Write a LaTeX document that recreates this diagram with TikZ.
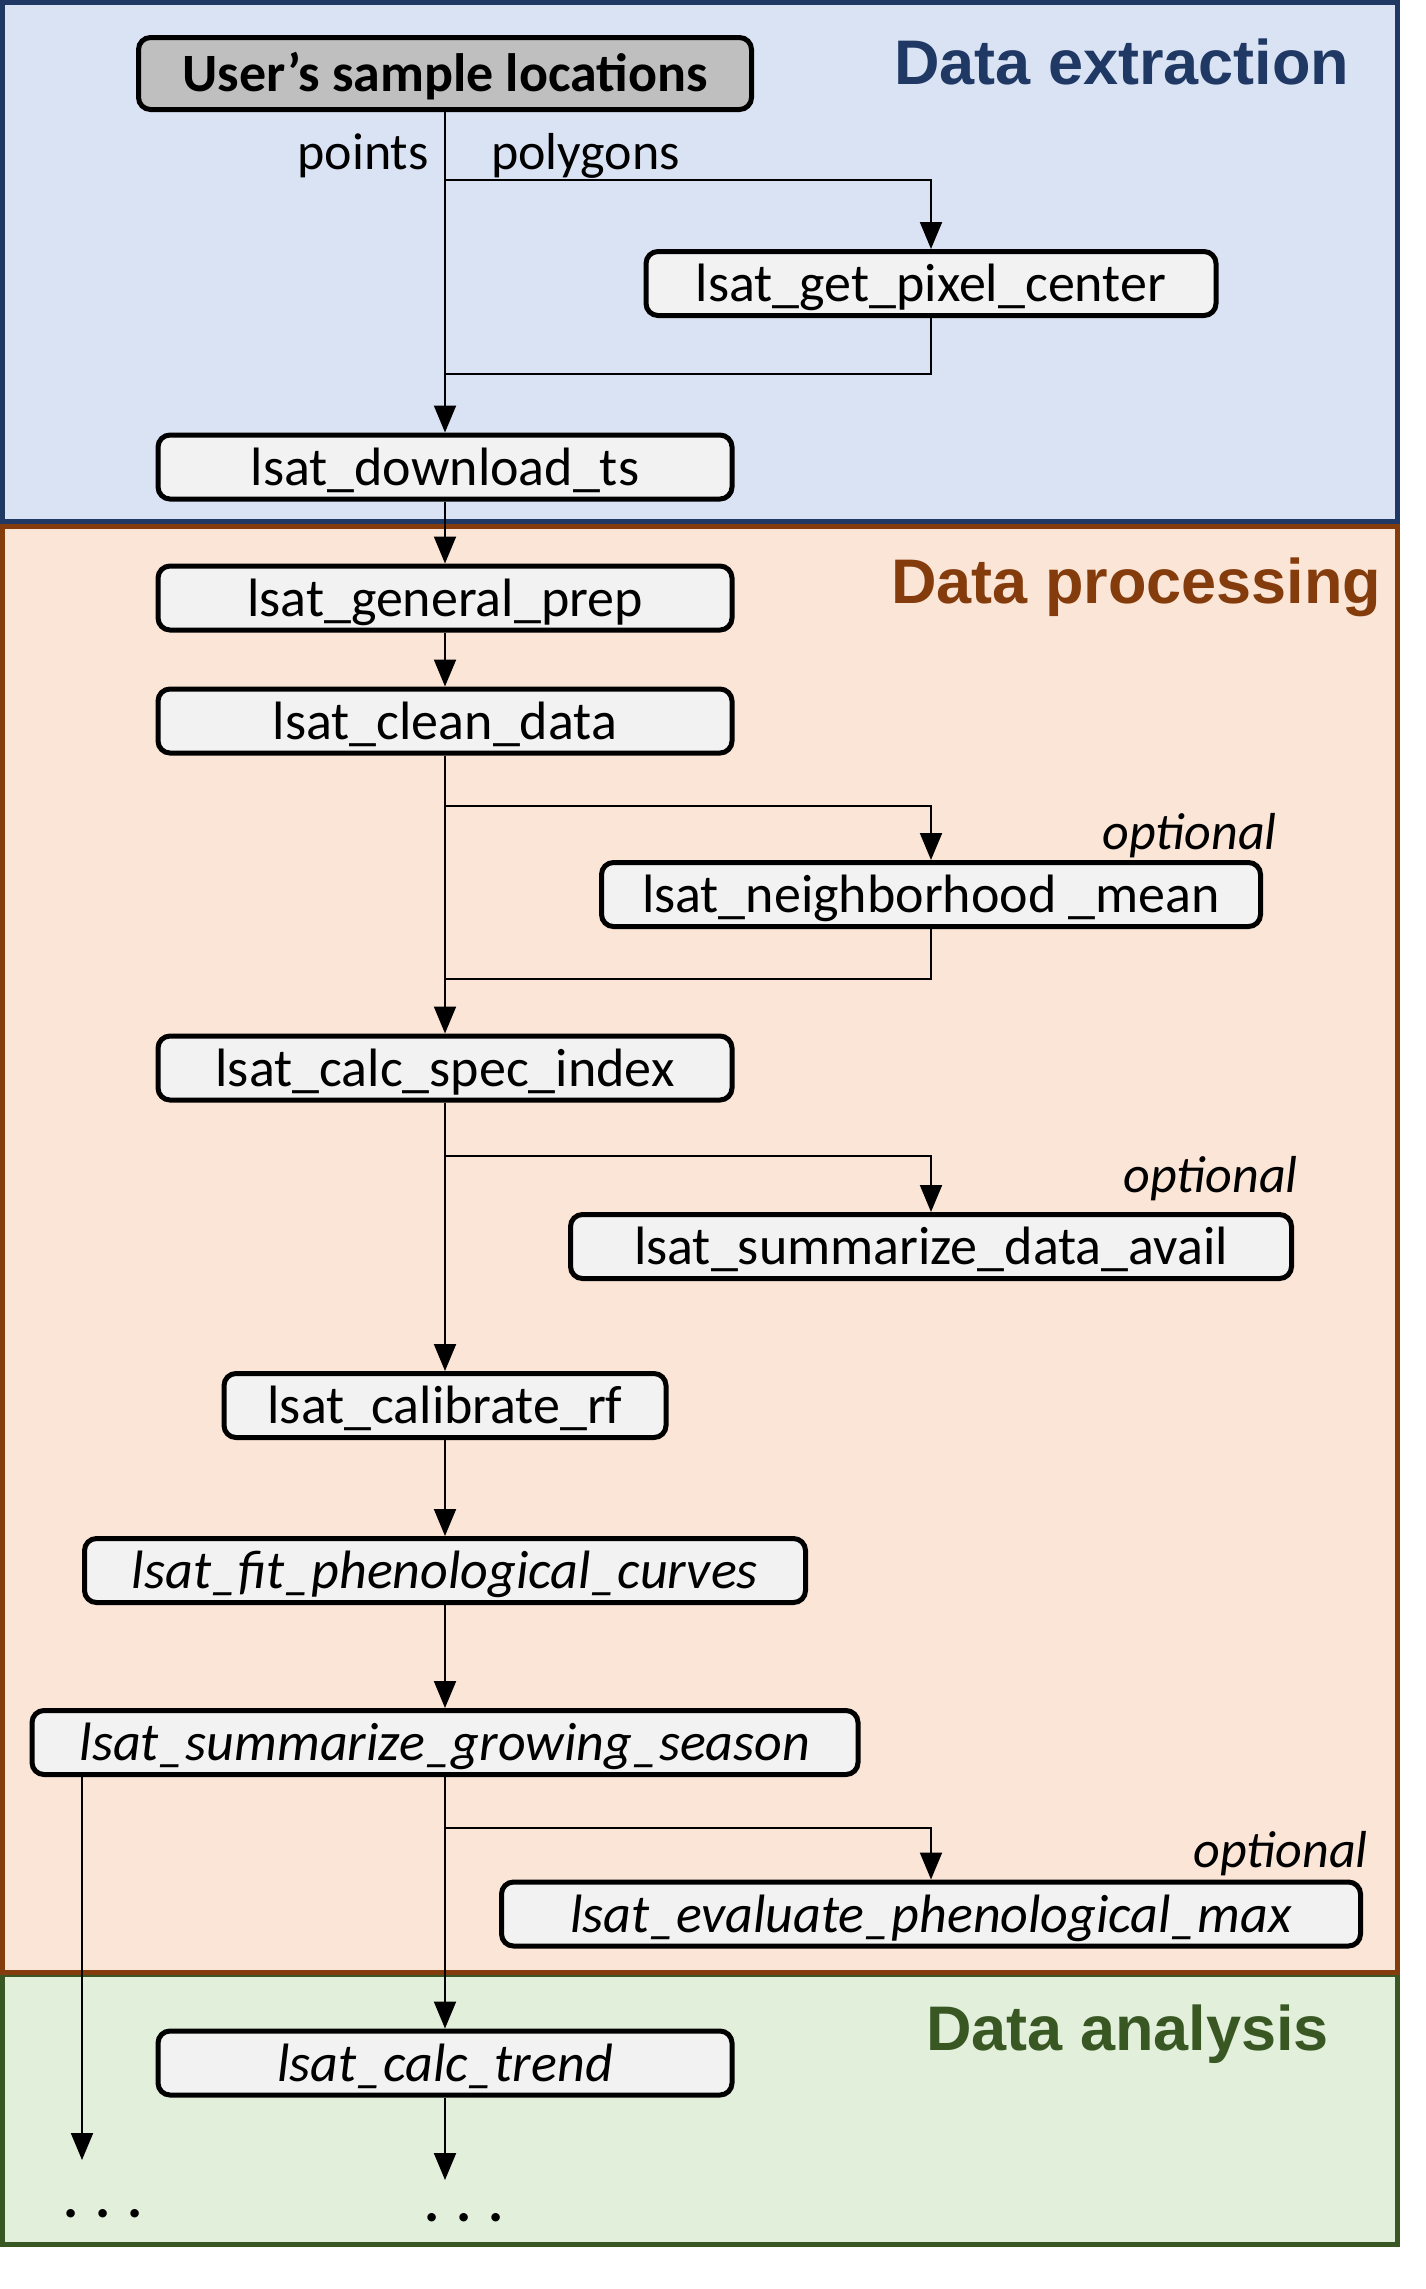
\documentclass[tikz,border=0pt]{standalone}
\usepackage{fontspec}
\setmainfont{Carlito}
\newfontfamily\headfont{Liberation Sans}
\usetikzlibrary{arrows.meta,positioning}
\definecolor{bluefill}{HTML}{DAE3F3}
\definecolor{blueline}{HTML}{1F3864}
\definecolor{orgfill}{HTML}{FBE5D6}
\definecolor{orgline}{HTML}{843C0C}
\definecolor{grnfill}{HTML}{E2EFDA}
\definecolor{grnline}{HTML}{385723}
\definecolor{boxfill}{HTML}{F2F2F2}
\definecolor{srcfill}{HTML}{BFBFBF}
\tikzset{
  box/.style={draw,line width=5pt,rounded corners=12pt,fill=boxfill,minimum width=#1,minimum height=64pt,inner sep=0pt,text height=42pt,text depth=6pt,font=\fontsize{54}{60}\selectfont},
  box/.default={574pt},
  itbox/.style={font=\fontsize{54}{60}\selectfont\itshape},
  arr/.style={-{Triangle[length=27pt,width=22pt]},line width=2pt},
  lnk/.style={line width=2pt},
  lbl/.style={font=\fontsize{52}{58}\selectfont,inner sep=0pt},
  opt/.style={lbl,font=\fontsize{52}{58}\selectfont\itshape,anchor=base east},
  dots/.style={font=\fontsize{57}{62}\selectfont\bfseries\itshape,inner sep=0pt,anchor=base west},
  panel/.style={line width=5pt},
  head/.style={font=\fontsize{63}{70}\headfont\bfseries,anchor=base west,inner sep=0pt},
}
\begin{document}
\begin{tikzpicture}[x=1pt,y=-1pt]
 \useasboundingbox (0,0) rectangle (1425,2289);
 \draw[panel,draw=grnline,fill=grnfill] (2.5,1974) rectangle (1397.5,2244.5);
 \draw[panel,draw=orgline,fill=orgfill] (2.5,526.5) rectangle (1397.5,1972);
 \draw[panel,draw=blueline,fill=bluefill] (2.5,2.5) rectangle (1397.5,521.5);
 \node[head,text=blueline] (tex) at (894,84) {Data extraction};
 \node[head,text=orgline] (tpr) at (891,603) {Data processing};
 \node[head,text=grnline] (tan) at (926,2050) {Data analysis};
 % boxes
 \node[box=613pt,fill=srcfill,minimum height=72pt,font=\fontsize{54}{60}\selectfont\bfseries] (usr) at (445,73.5) {User’s sample locations};
 \node[box=570pt] (pix) at (931,283.5) {lsat\_get\_pixel\_center};
 \node[box] (dl) at (445,467) {lsat\_download\_ts};
 \node[box] (prep) at (445,598) {lsat\_general\_prep};
 \node[box] (clean) at (445,721) {lsat\_clean\_data};
 \node[box=659pt] (nbh) at (931,894.5) {lsat\_neighborhood \_mean};
 \node[box] (spec) at (445,1068) {lsat\_calc\_spec\_index};
 \node[box=721pt] (avail) at (931,1246.5) {lsat\_summarize\_data\_avail};
 \node[box=442pt] (calrf) at (445,1405.5) {lsat\_calibrate\_rf};
 \node[box=721pt,itbox] (fit) at (445,1570.5) {lsat\_fit\_phenological\_curves};
 \node[box=826pt,itbox] (grow) at (445,1742.5) {lsat\_summarize\_growing\_season};
 \node[box=859pt,itbox] (evalm) at (931,1914) {lsat\_evaluate\_phenological\_max};
 \node[box,itbox] (trend) at (445,2063) {lsat\_calc\_trend};
 % labels
 \node[lbl,anchor=base east] (pts) at (429,169) {points};
 \node[lbl,anchor=base west] (pol) at (491,169) {polygons};
 \node[opt] (op1) at (1277,849) {optional};
 \node[opt] (op2) at (1298,1192) {optional};
 \node[opt] (op3) at (1368,1867) {optional};
 \node[dots] (moreL) at (64,2217) {. . .};
 \node[dots] (moreC) at (425,2221) {. . .};
 % connectors
 \coordinate (fk1) at (445,180); \coordinate (jn1) at (445,374);
 \coordinate (fk2) at (445,806); \coordinate (jn2) at (445,979);
 \coordinate (fk3) at (445,1156); \coordinate (fk4) at (445,1828);
 \coordinate (endL) at (82,2160); \coordinate (endC) at (445,2180);
 \draw[arr] (usr) -- (dl);
 \draw[arr] (fk1) -| (pix.north); \draw[lnk] (pix.south) |- (jn1);
 \draw[arr] (dl) -- (prep); \draw[arr] (prep) -- (clean); \draw[arr] (clean) -- (spec);
 \draw[arr] (fk2) -| (nbh.north); \draw[lnk] (nbh.south) |- (jn2);
 \draw[arr] (spec) -- (calrf); \draw[arr] (fk3) -| (avail.north);
 \draw[arr] (calrf) -- (fit); \draw[arr] (fit) -- (grow); \draw[arr] (grow) -- (trend);
 \draw[arr] (fk4) -| (evalm.north);
 \draw[arr] (grow.south -| endL) -- (endL);
 \draw[arr] (trend) -- (endC);
\end{tikzpicture}
\end{document}
